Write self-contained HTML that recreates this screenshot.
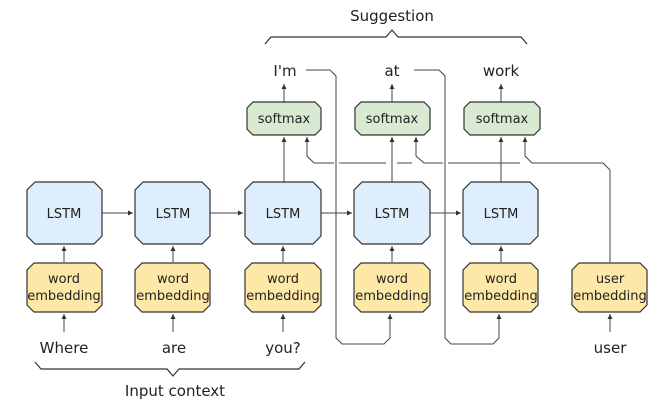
<!DOCTYPE html>
<html><head><meta charset="utf-8"><style>
html,body{margin:0;padding:0;background:#fff;}
svg{display:block;}
text{font-family:"DejaVu Sans","Liberation Sans",sans-serif;fill:#222;}
</style></head><body>
<svg width="657" height="407" viewBox="0 0 657 407" xmlns="http://www.w3.org/2000/svg">
<defs>
<marker id="a" markerWidth="6" markerHeight="6" refX="5" refY="3" orient="auto" markerUnits="userSpaceOnUse">
<path d="M0,0.5 L5,3 L0,5.5 Z" fill="#333"/></marker>
</defs>
<g stroke="#333" stroke-width="1.2" fill="none">
<!-- top brace -->
<polyline points="265,44 271,37 386,37 392,30 398,37 521,37 527,44"/>
<!-- bottom brace -->
<polyline points="35,362 41,369 167,369 173,376 179,369 299,369 305,362"/>
</g>
<text x="392" y="21" font-size="15" text-anchor="middle">Suggestion</text>
<text x="175" y="396" font-size="15" text-anchor="middle">Input context</text>

<g stroke="#444" stroke-width="1" fill="none">
<!-- I'm loop -->
<polyline points="306,70 330,70 336,76 336,338 342,344 384,344 390,338 390,314" marker-end="url(#a)"/>
<!-- at loop -->
<polyline points="414,70 439,70 445,76 445,338 451,344 493,344 499,338 499,314" marker-end="url(#a)"/>
<!-- user feed -->
<polyline points="610,262 610,170 603,163 532,163"/>
<polyline points="520,163 448,163"/>
<polyline points="443,163 424,163"/>
<polyline points="412,163 397,163"/>
<polyline points="386,163 339,163"/>
<polyline points="334,163 314,163"/>
<polyline points="314,163 307,156 307,137" marker-end="url(#a)"/>
<polyline points="424,163 416,156 416,137" marker-end="url(#a)"/>
<polyline points="532,163 525,156 525,137" marker-end="url(#a)"/>
<!-- LSTM chain -->
<line x1="102" y1="213" x2="133" y2="213" marker-end="url(#a)"/>
<line x1="210" y1="213" x2="243" y2="213" marker-end="url(#a)"/>
<line x1="320" y1="213" x2="352" y2="213" marker-end="url(#a)"/>
<line x1="430" y1="213" x2="461" y2="213" marker-end="url(#a)"/>
<!-- emb -> LSTM, words -> emb -->
<line x1="64" y1="262" x2="64" y2="246" marker-end="url(#a)"/>
<line x1="173" y1="262" x2="173" y2="246" marker-end="url(#a)"/>
<line x1="283" y1="262" x2="283" y2="246" marker-end="url(#a)"/>
<line x1="392" y1="262" x2="392" y2="246" marker-end="url(#a)"/>
<line x1="501" y1="262" x2="501" y2="246" marker-end="url(#a)"/>
<line x1="64" y1="332" x2="64" y2="314" marker-end="url(#a)"/>
<line x1="173" y1="332" x2="173" y2="314" marker-end="url(#a)"/>
<line x1="283" y1="332" x2="283" y2="314" marker-end="url(#a)"/>
<line x1="610" y1="332" x2="610" y2="314" marker-end="url(#a)"/>
<!-- LSTM -> softmax -->
<line x1="284" y1="182" x2="284" y2="137" marker-end="url(#a)"/>
<line x1="392" y1="182" x2="392" y2="137" marker-end="url(#a)"/>
<line x1="501" y1="182" x2="501" y2="137" marker-end="url(#a)"/>
<!-- softmax -> word -->
<line x1="284" y1="102" x2="284" y2="84" marker-end="url(#a)"/>
<line x1="392" y1="102" x2="392" y2="84" marker-end="url(#a)"/>
<line x1="501" y1="102" x2="501" y2="84" marker-end="url(#a)"/>
</g>

<g stroke="#333" stroke-width="1.2">
<!-- LSTM boxes -->
<g fill="#deeefc">
<polygon points="35,182 94,182 102,190 102,236 94,244 35,244 27,236 27,190"/>
<polygon points="143,182 202,182 210,190 210,236 202,244 143,244 135,236 135,190"/>
<polygon points="253,182 313,182 321,190 321,236 313,244 253,244 245,236 245,190"/>
<polygon points="362,182 422,182 430,190 430,236 422,244 362,244 354,236 354,190"/>
<polygon points="471,182 530,182 538,190 538,236 530,244 471,244 463,236 463,190"/>
</g>
<g fill="#fde8a8">
<polygon points="34,263 95,263 102,270 102,305 95,312 34,312 27,305 27,270"/>
<polygon points="142,263 203,263 210,270 210,305 203,312 142,312 135,305 135,270"/>
<polygon points="252,263 314,263 321,270 321,305 314,312 252,312 245,305 245,270"/>
<polygon points="361,263 423,263 430,270 430,305 423,312 361,312 354,305 354,270"/>
<polygon points="470,263 531,263 538,270 538,305 531,312 470,312 463,305 463,270"/>
<polygon points="579,263 640,263 647,270 647,305 640,312 579,312 572,305 572,270"/>
</g>
<g fill="#d9ead3">
<polygon points="253,102 315,102 321,108 321,129 315,135 253,135 247,129 247,108"/>
<polygon points="361,102 424,102 430,108 430,129 424,135 361,135 355,129 355,108"/>
<polygon points="470,102 534,102 540,108 540,129 534,135 470,135 464,129 464,108"/>
</g>
</g>

<g font-size="13" text-anchor="middle">
<text x="64" y="218">LSTM</text><text x="173" y="218">LSTM</text><text x="283" y="218">LSTM</text><text x="392" y="218">LSTM</text><text x="501" y="218">LSTM</text>
<text x="64" y="283">word</text><text x="64" y="300">embedding</text>
<text x="173" y="283">word</text><text x="173" y="300">embedding</text>
<text x="283" y="283">word</text><text x="283" y="300">embedding</text>
<text x="392" y="283">word</text><text x="392" y="300">embedding</text>
<text x="501" y="283">word</text><text x="501" y="300">embedding</text>
<text x="610" y="283">user</text><text x="610" y="300">embedding</text>
<text x="284" y="123">softmax</text><text x="392" y="123">softmax</text><text x="502" y="123">softmax</text>
</g>
<g font-size="15" text-anchor="middle">
<text x="285" y="76">I'm</text><text x="392" y="76">at</text><text x="501" y="76">work</text>
<text x="64" y="353">Where</text><text x="174" y="353">are</text><text x="283" y="353">you?</text><text x="610" y="353">user</text>
</g>
</svg>
</body></html>
